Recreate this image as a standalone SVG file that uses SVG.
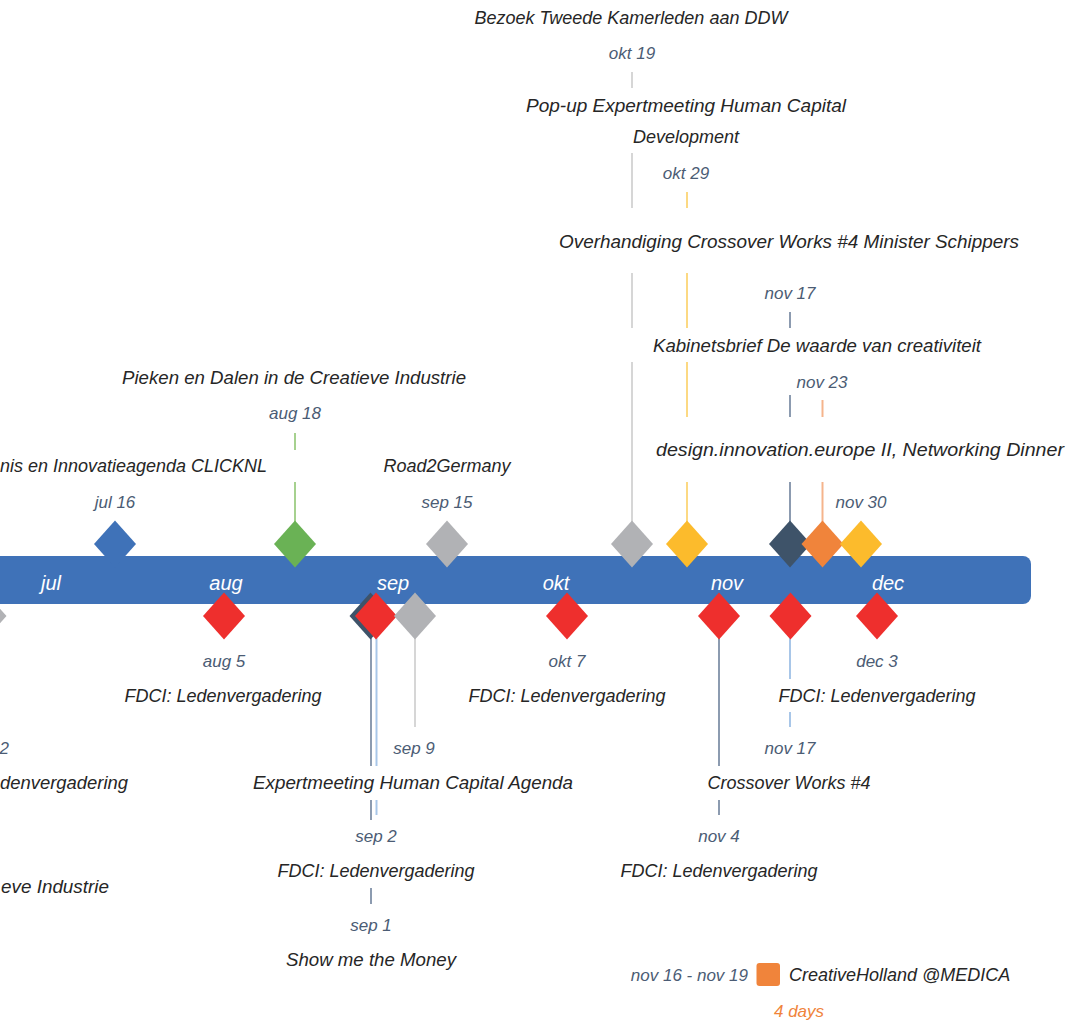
<svg xmlns="http://www.w3.org/2000/svg" width="1078" height="1023" viewBox="0 0 1078 1023">
<style>
.t{font-family:"Liberation Sans",Arial,sans-serif;font-style:italic;font-size:18px;fill:#262626;text-anchor:middle}
.d{font-family:"Liberation Sans",Arial,sans-serif;font-style:italic;font-size:17px;fill:#4b5c74;text-anchor:middle}
.m{font-family:"Liberation Sans",Arial,sans-serif;font-style:italic;font-size:20px;fill:#ffffff;text-anchor:middle}
.e{text-anchor:end}
.s{text-anchor:start}
.c line{stroke-width:2;fill:none}
.lg{stroke:#d6d6d6}.ly{stroke:#fcd983}.ls{stroke:#8c9bb0}.lo{stroke:#f5b48c}.lgr{stroke:#a6d18f}.lb{stroke:#a8c6e8}
</style>
<defs>
<path id="dm" d="M0,-23.5 L21,0 L0,23.5 L-21,0Z"/>
</defs>
<rect id="axis" x="-10" y="556" width="1041" height="48" rx="8" fill="#3f72b8"/>
<g id="months">
<text class="m" x="51" y="590">jul</text>
<text class="m" x="226" y="590">aug</text>
<text class="m" x="393" y="590">sep</text>
<text class="m" x="556" y="590">okt</text>
<text class="m" x="727" y="590">nov</text>
<text class="m" x="888" y="590">dec</text>
</g>
<g id="connectors" class="c">
<line class="lgr" x1="295" y1="433" x2="295" y2="450"/>
<line class="lgr" x1="295" y1="482" x2="295" y2="522"/>
<line class="lg" x1="632" y1="72" x2="632" y2="88"/>
<line class="lg" x1="632" y1="153" x2="632" y2="208"/>
<line class="lg" x1="632" y1="273" x2="632" y2="328"/>
<line class="lg" x1="632" y1="362" x2="632" y2="522"/>
<line class="ly" x1="687" y1="192" x2="687" y2="208"/>
<line class="ly" x1="687" y1="273" x2="687" y2="328"/>
<line class="ly" x1="687" y1="362" x2="687" y2="417"/>
<line class="ly" x1="687" y1="482" x2="687" y2="522"/>
<line class="ls" x1="790" y1="312" x2="790" y2="328"/>
<line class="ls" x1="790" y1="395" x2="790" y2="417"/>
<line class="ls" x1="790" y1="482" x2="790" y2="522"/>
<line class="lo" x1="822.5" y1="400" x2="822.5" y2="417"/>
<line class="lo" x1="822.5" y1="482" x2="822.5" y2="522"/>
<line class="ls" x1="371" y1="638" x2="371" y2="766"/>
<line class="ls" x1="371" y1="800" x2="371" y2="820"/>
<line class="ls" x1="371" y1="888" x2="371" y2="904"/>
<line class="lb" x1="376.5" y1="638" x2="376.5" y2="766"/>
<line class="lb" x1="376.5" y1="800" x2="376.5" y2="815"/>
<line class="lg" x1="415" y1="638" x2="415" y2="727"/>
<line class="ls" x1="719" y1="638" x2="719" y2="766"/>
<line class="ls" x1="719" y1="800" x2="719" y2="815"/>
<line class="lb" x1="790" y1="638" x2="790" y2="679"/>
<line class="lb" x1="790" y1="712" x2="790" y2="727"/>
</g>
<g id="ev-offleft">
<use href="#dm" x="-14.5" y="616" fill="#b1b2b5"/>
<text class="d e" x="9" y="754">2</text>
<text class="t e" x="128" y="789" textLength="128" lengthAdjust="spacingAndGlyphs">denvergadering</text>
<text class="t e" x="109" y="893" textLength="108" lengthAdjust="spacingAndGlyphs">eve Industrie</text>
</g>
<g id="ev-jul16">
<use href="#dm" x="115" y="544" fill="#3f72b8"/>
<text class="d" x="115" y="508">jul 16</text>
<text class="t e" x="267" y="472" textLength="267" lengthAdjust="spacingAndGlyphs">nis en Innovatieagenda CLICKNL</text>
</g>
<g id="ev-aug18">
<use href="#dm" x="295" y="544" fill="#6ab255"/>
<text class="d" x="295" y="419">aug 18</text>
<text class="t" x="294" y="384" textLength="344" lengthAdjust="spacingAndGlyphs">Pieken en Dalen in de Creatieve Industrie</text>
</g>
<g id="ev-sep15">
<use href="#dm" x="447" y="544" fill="#b1b2b5"/>
<text class="d" x="447" y="508">sep 15</text>
<text class="t" x="447" y="472">Road2Germany</text>
</g>
<g id="ev-okt19">
<use href="#dm" x="632" y="544" fill="#b1b2b5"/>
<text class="d" x="632" y="59">okt 19</text>
<text class="t" x="631" y="24">Bezoek Tweede Kamerleden aan DDW</text>
</g>
<g id="ev-okt29">
<use href="#dm" x="687" y="544" fill="#fcbb2c"/>
<text class="d" x="686" y="179">okt 29</text>
<text class="t" x="686" y="112" textLength="320" lengthAdjust="spacingAndGlyphs">Pop-up Expertmeeting Human Capital</text>
<text class="t" x="686" y="143">Development</text>
</g>
<g id="ev-nov17a">
<use href="#dm" x="790" y="544" fill="#3e5369"/>
<text class="d" x="790" y="299">nov 17</text>
<text class="t" x="789" y="248" textLength="460" lengthAdjust="spacingAndGlyphs">Overhandiging Crossover Works #4 Minister Schippers</text>
</g>
<g id="ev-nov23">
<use href="#dm" x="822.5" y="544" fill="#f0843b"/>
<text class="d" x="822" y="388">nov 23</text>
<text class="t" x="817" y="352" textLength="328" lengthAdjust="spacingAndGlyphs">Kabinetsbrief De waarde van creativiteit</text>
</g>
<g id="ev-nov30">
<use href="#dm" x="861" y="544" fill="#fcbb2c"/>
<text class="d" x="861" y="508">nov 30</text>
<text class="t" x="860" y="456" textLength="408" lengthAdjust="spacingAndGlyphs">design.innovation.europe II, Networking Dinner</text>
</g>
<g id="ev-aug5">
<use href="#dm" x="224" y="616" fill="#ee2f2d"/>
<text class="d" x="224" y="667">aug 5</text>
<text class="t" x="223" y="702">FDCI: Ledenvergadering</text>
</g>
<g id="ev-sep1">
<use href="#dm" x="370.5" y="616" fill="#3e5369"/>
<text class="d" x="371" y="931">sep 1</text>
<text class="t" x="371" y="966" textLength="170" lengthAdjust="spacingAndGlyphs">Show me the Money</text>
</g>
<g id="ev-sep2">
<use href="#dm" x="376" y="616" fill="#ee2f2d"/>
<text class="d" x="376" y="842">sep 2</text>
<text class="t" x="376" y="877">FDCI: Ledenvergadering</text>
</g>
<g id="ev-sep9">
<use href="#dm" x="415" y="616" fill="#b1b2b5"/>
<text class="d" x="414" y="754">sep 9</text>
<text class="t" x="413" y="789" textLength="320" lengthAdjust="spacingAndGlyphs">Expertmeeting Human Capital Agenda</text>
</g>
<g id="ev-okt7">
<use href="#dm" x="567" y="616" fill="#ee2f2d"/>
<text class="d" x="567" y="667">okt 7</text>
<text class="t" x="567" y="702">FDCI: Ledenvergadering</text>
</g>
<g id="ev-nov4">
<use href="#dm" x="719" y="616" fill="#ee2f2d"/>
<text class="d" x="719" y="842">nov 4</text>
<text class="t" x="719" y="877">FDCI: Ledenvergadering</text>
</g>
<g id="ev-nov17b">
<use href="#dm" x="790.5" y="616" fill="#ee2f2d"/>
<text class="d" x="790" y="754">nov 17</text>
<text class="t" x="789" y="789">Crossover Works #4</text>
</g>
<g id="ev-dec3">
<use href="#dm" x="877" y="616" fill="#ee2f2d"/>
<text class="d" x="877" y="667">dec 3</text>
<text class="t" x="877" y="702">FDCI: Ledenvergadering</text>
</g>
<g id="ev-medica">
<text class="d e" x="748" y="981">nov 16 - nov 19</text>
<rect x="756.5" y="963" width="23.5" height="23" rx="3" fill="#f0843b"/>
<text class="t s" x="789" y="981">CreativeHolland @MEDICA</text>
<text class="d" x="799" y="1017" style="fill:#f0843b">4 days</text>
</g>
</svg>
